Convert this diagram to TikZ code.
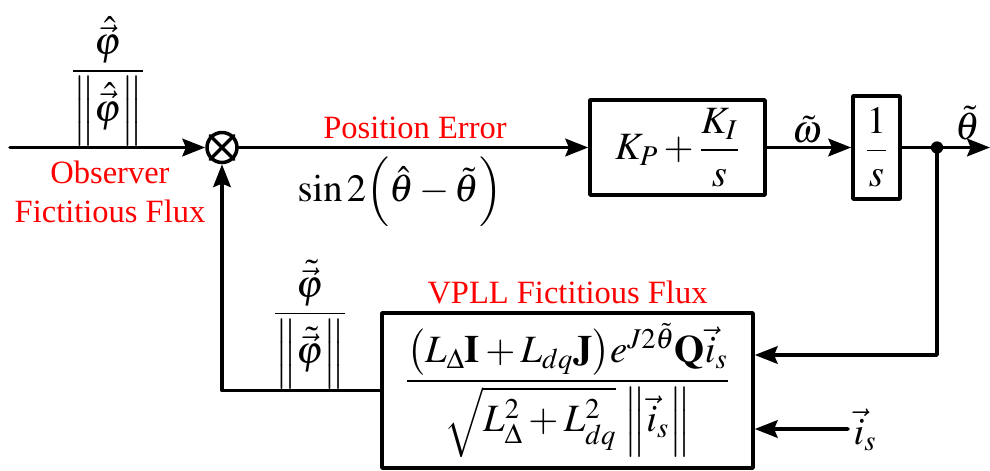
\documentclass[tikz,border=0pt]{standalone}
\usepackage{amsmath}
\usepackage{mathptmx}
\usepackage{fontspec}
\setmainfont{Liberation Serif}
\newfontfamily\tnr{Liberation Serif}
\usetikzlibrary{arrows.meta,positioning}
\tikzset{
  blk/.style={draw, line width=2pt, inner sep=3pt},
  sig/.style={line width=2pt, -{Stealth[length=13pt,width=10pt,inset=2pt]}},
  note/.style={text=red, font=\tnr\fontsize{18.5}{22}\selectfont},
  lbl/.style={font=\fontsize{22}{26}\selectfont, inner sep=1pt},
}
\begin{document}
\begin{tikzpicture}[line cap=round, line join=round]
\useasboundingbox (0,0) rectangle (19.8,9.4);
% Forward path
\coordinate (in) at (0.2,6.45);
\node[draw, circle, line width=2pt, minimum size=0.6cm, inner sep=0pt] (mul) at (4.44,6.45) {};
\draw[line width=2pt] (mul.north west) -- (mul.south east);
\draw[line width=2pt] (mul.north east) -- (mul.south west);
\node[blk, lbl, minimum width=3.5cm, minimum height=1.9cm] (pi) at (13.55,6.45) {$K_P+\dfrac{K_I}{s}$};
\node[blk, lbl, minimum width=0.94cm, minimum height=2.06cm, inner sep=0pt] (integ) at (17.53,6.45) {$\dfrac{1}{s}$};
\coordinate (dot) at (18.74,6.45);
\coordinate (out) at (19.8,6.45);
% Feedback block
\node[blk, lbl, minimum width=7.42cm, minimum height=3.1cm] (vpll) at (11.35,1.59)
  {$\dfrac{\bigl(L_\Delta\mathbf{I}+L_{dq}\mathbf{J}\bigr)e^{J2\tilde{\theta}}\mathbf{Q}\vec{i}_s}{\sqrt{L_\Delta^2+L_{dq}^2}\,\left\|\vec{i}_s\right\|}$};
\coordinate (isin) at (16.96,0.82);
% Connectors
\draw[sig] (in) -- (mul);
\draw[sig] (mul) -- (pi);
\draw[sig] (pi) -- (integ);
\draw[sig] (integ) -- (out);
\fill (dot) circle (3.5pt);
\draw[sig] (dot) |- ([yshift=0.71cm]vpll.east);
\draw[sig] (isin) -- ([yshift=-0.77cm]vpll.east);
\draw[sig] (vpll.west) -| (mul);
% Labels
\node[lbl, anchor=south, inner sep=0pt] (obsfrac) at (2.16,6.47) {$\dfrac{\hat{\vec{\varphi}}}{\left\|\hat{\vec{\varphi}}\right\|}$};
\node[note, align=center, anchor=north] (obsname) at (2.2,6.3) {Observer\\Fictitious Flux};
\node[note, anchor=south] (errname) at (8.3,6.5) {Position Error};
\node[lbl, anchor=north] (err) at (8.0,6.3) {$\sin 2\Bigl(\hat{\theta}-\tilde{\theta}\Bigr)$};
\node[lbl, anchor=south] (omega) at (16.14,6.5) {$\tilde{\omega}$};
\node[lbl, anchor=south] (theta) at (19.36,6.55) {$\tilde{\theta}$};
\node[lbl, anchor=south, inner sep=0pt] (fbfrac) at (6.2,1.62) {$\dfrac{\tilde{\vec{\varphi}}}{\left\|\tilde{\vec{\varphi}}\right\|}$};
\node[note, anchor=south] (vpllname) at (11.35,3.2) {VPLL Fictitious Flux};
\node[lbl] (is) at (17.3,0.8) {$\vec{i}_s$};
\end{tikzpicture}
\end{document}
